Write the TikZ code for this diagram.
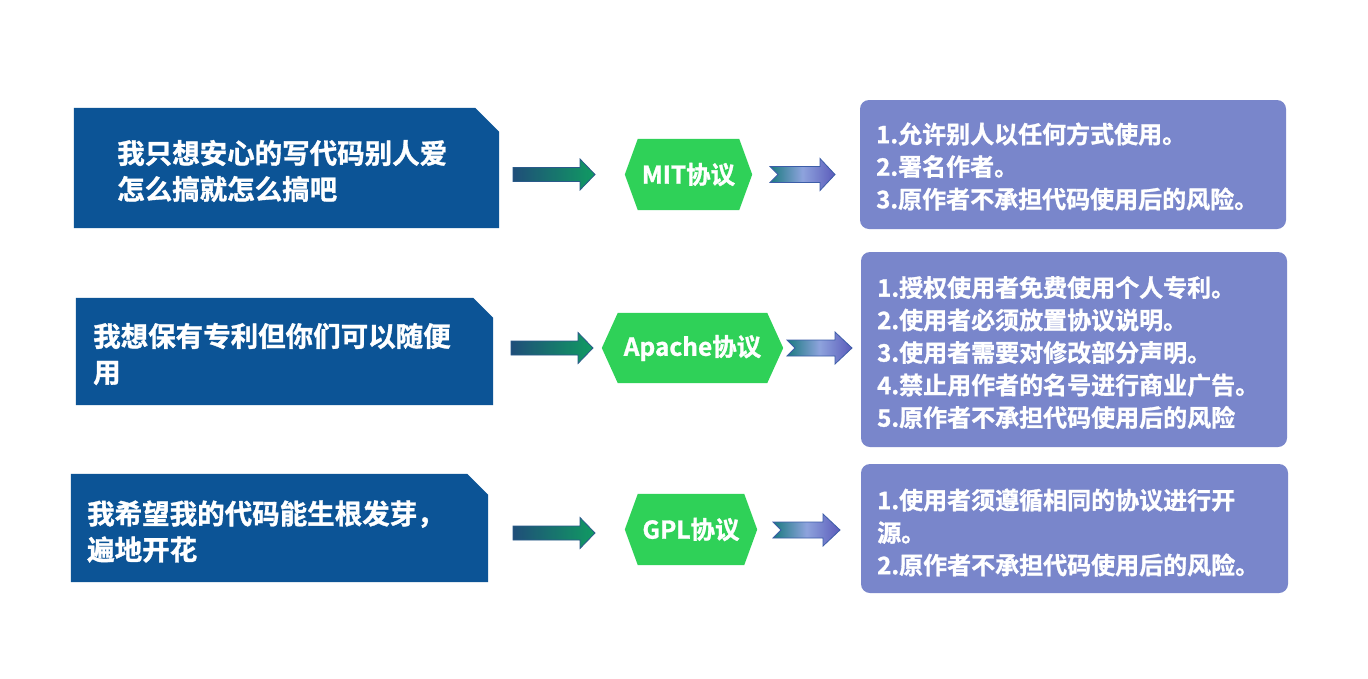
\documentclass[tikz,border=0pt]{standalone}
\usepackage{fontspec}
\newfontfamily\cjkb{Noto Sans CJK SC Bold}[FakeBold=1.2]
\usetikzlibrary{backgrounds}
\definecolor{qblue}{HTML}{0C5496}
\definecolor{hgreen}{HTML}{2FD158}
\definecolor{rpurple}{HTML}{7986CB}
\definecolor{laL}{HTML}{1F4E79}
\definecolor{laR}{HTML}{109B62}
\definecolor{laO}{HTML}{2A5A8A}
\definecolor{raL}{HTML}{1A7A80}
\definecolor{raM}{HTML}{8EA3DD}
\definecolor{raR}{HTML}{5B5BBA}
\definecolor{raO}{HTML}{3C5DA8}
\tikzset{
  qframe/.style={inner sep=0pt, draw=none},
  qtext/.style={text=white, align=left, anchor=west, inner sep=0pt,
    font=\cjkb\fontsize{27.5pt}{36pt}\selectfont},
  hexnode/.style={inner sep=0pt, text=white, font=\cjkb\fontsize{24.5pt}{28pt}\selectfont},
  rbox/.style={fill=rpurple, rounded corners=9pt, inner sep=0pt},
  rtext/.style={text=white, align=left, anchor=west, inner sep=0pt,
    font=\cjkb\fontsize{24pt}{32.5pt}\selectfont},
  larrowsty/.style={left color=laL, right color=laR, draw=laO, line width=0.8pt},
  rarrowsty/.style={left color=raL, right color=raR, middle color=raM, draw=raO, line width=0.8pt},
}
\newcommand\lblockarrow[4]{%
  \path[larrowsty] (#1,#4-7) -- (#2,#4-7) -- (#2,#4-15.5) -- (#3,#4) -- (#2,#4+15.5) -- (#2,#4+7) -- (#1,#4+7) -- cycle;}
\newcommand\rblockarrow[4]{%
  \path[rarrowsty] (#1,#4-8) -- (#2,#4-8) -- (#2,#4-16) -- (#3,#4) -- (#2,#4+16) -- (#2,#4+8) -- (#1,#4+8) -- (#1+8,#4) -- cycle;}
\newcommand\hexfill[2]{%
  \fill[hgreen] (#1.west) -- ([xshift=#2]#1.north west) -- ([xshift=-#2]#1.north east) -- (#1.east) -- ([xshift=-#2]#1.south east) -- ([xshift=#2]#1.south west) -- cycle;}
\newcommand\qfill[2]{%
  \fill[qblue] (#1.south west) -- (#1.north west) -- ([xshift=-#2]#1.north east) -- ([yshift=-#2]#1.north east) -- (#1.south east) -- cycle;}
\begin{document}
\begin{tikzpicture}[x=1pt,y=-1pt]
\useasboundingbox (0,0) rectangle (1368,678);

% left question boxes
\node[qframe, minimum width=425pt, minimum height=120pt] (q1) at (286.5,168) {};
\node[qframe, minimum width=417pt, minimum height=107pt] (q2) at (284.5,351.5) {};
\node[qframe, minimum width=417pt, minimum height=108pt] (q3) at (279.5,528) {};
\qfill{q1}{24pt}
\qfill{q2}{20pt}
\qfill{q3}{21pt}
\node[qtext] (qt1) at (117,171) {我只想安心的写代码别人爱\\怎么搞就怎么搞吧};
\node[qtext] (qt2) at (93,354) {我想保有专利但你们可以随便\\用};
\node[qtext] (qt3) at (87,531.5) {我希望我的代码能生根发芽，\\遍地开花};

% left arrows
\lblockarrow{513}{580}{595}{174.5}
\lblockarrow{511}{578}{593}{348}
\lblockarrow{513}{580}{595}{533}

% hexagons
\node[hexnode, minimum width=127pt, minimum height=71pt] (h1) at (688.5,174.5) {MIT协议};
\node[hexnode, minimum width=181pt, minimum height=70pt] (h2) at (692.5,348) {Apache协议};
\node[hexnode, minimum width=132pt, minimum height=71pt] (h3) at (691,529.5) {GPL协议};
\begin{scope}[on background layer]
\fill[white] (0,0) rectangle (1368,678);
\hexfill{h1}{13pt}
\hexfill{h2}{16pt}
\hexfill{h3}{13pt}
\end{scope}

% right arrows
\rblockarrow{770}{820}{835}{174.5}
\rblockarrow{787}{835}{852}{348}
\rblockarrow{773}{823}{840}{530}

% right boxes
\node[rbox, minimum width=426pt, minimum height=129pt] (r1) at (1073,164.5) {};
\node[rbox, minimum width=426pt, minimum height=195pt] (r2) at (1074,349.5) {};
\node[rbox, minimum width=427pt, minimum height=129pt] (r3) at (1074.5,528.5) {};
\node[rtext] (rt1) at (876,166.5) {1.允许别人以任何方式使用。\\2.署名作者。\\3.原作者不承担代码使用后的风险。};
\node[rtext] (rt2) at (877,352.5) {1.授权使用者免费使用个人专利。\\2.使用者必须放置协议说明。\\3.使用者需要对修改部分声明。\\4.禁止用作者的名号进行商业广告。\\5.原作者不承担代码使用后的风险};
\node[rtext] (rt3) at (877,532.5) {1.使用者须遵循相同的协议进行开\\源。\\2.原作者不承担代码使用后的风险。};
\end{tikzpicture}
\end{document}
